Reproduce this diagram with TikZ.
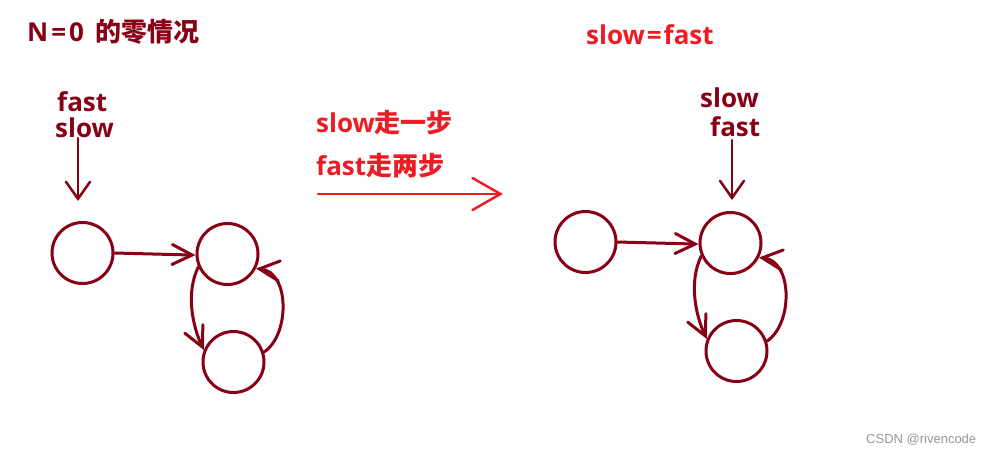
\documentclass[tikz,border=0pt]{standalone}
\usepackage{fontspec}
\setmainfont{Open Sans}
\newfontfamily\cjk{Noto Sans CJK SC}
\newfontfamily\wmfont{Liberation Sans}
\usetikzlibrary{arrows.meta}
\definecolor{dred}{RGB}{136,0,21}
\definecolor{pred}{RGB}{237,28,36}
\definecolor{wmgray}{RGB}{150,150,150}
\begin{document}
\begin{tikzpicture}[x=1pt,y=-1pt,
  ring/.style={circle,draw=dred,line width=3pt,minimum size=61pt,inner sep=0pt},
  lnk/.style={draw=dred,line width=3pt,line cap=round,-{Straight Barb[length=20pt,width=20pt,line cap=round]}},
  ptr/.style={draw=dred,line width=2.5pt,line cap=round,-{Straight Barb[length=17pt,width=24pt,line cap=round]}},
  lbl/.style={anchor=base west,inner sep=0pt,font=\bfseries\fontsize{26}{26}\selectfont},
]
\useasboundingbox (0,0) rectangle (999,453);
% title
\node[lbl,text=dred] (title) at (27,41) {N\kern3pt=\kern3pt0\kern11pt{\cjk\bfseries 的零情况}};
% left labels
\node[lbl,text=dred] (lfast) at (57,111) {fast};
\node[lbl,text=dred] (lslow) at (55,137) {slow};
\coordinate (lptrs) at (78,138);
\coordinate (lptre) at (78,201);
\draw[ptr] (lptrs) -- (lptre);
% left graph
\node[ring] (A1) at (82.5,253) {};
\node[ring] (B1) at (227.5,254) {};
\node[ring] (C1) at (233.5,362) {};
\draw[lnk] (A1.east) -- (B1.182);
\draw[lnk] (B1.204) .. controls (186,292) and (192,325) .. (C1.158);
\draw[lnk] (C1.18) .. controls (290,335) and (290,272) .. (B1.333);
% middle
\node[lbl,text=pred] (m1) at (316,132) {slow{\cjk\bfseries 走一步}};
\node[lbl,text=pred] (m2) at (316,175) {fast{\cjk\bfseries 走两步}};
\coordinate (ms) at (318,194);
\coordinate (me) at (503,194);
\draw[draw=pred,line width=2.5pt,line cap=round,-{Straight Barb[length=28pt,width=32pt,line cap=round]}] (ms) -- (me);
% right
\node[lbl,text=pred] (eq) at (586,44) {slow\kern2pt=\kern2pt fast};
\node[lbl,text=dred] (rslow) at (700,107) {slow};
\node[lbl,text=dred] (rfast) at (710,136) {fast};
\coordinate (rptrs) at (732,140);
\coordinate (rptre) at (732,200);
\draw[ptr] (rptrs) -- (rptre);
\node[ring] (A2) at (585.5,242) {};
\node[ring] (B2) at (730.5,243) {};
\node[ring] (C2) at (736.5,351) {};
\draw[lnk] (A2.east) -- (B2.182);
\draw[lnk] (B2.204) .. controls (689,281) and (695,314) .. (C2.158);
\draw[lnk] (C2.18) .. controls (793,324) and (793,261) .. (B2.333);
% watermark
\node[anchor=base west,inner sep=0pt,text=wmgray,font=\wmfont\fontsize{13}{13}\selectfont] (wm) at (866,443) {CSDN @rivencode};
\end{tikzpicture}
\end{document}
